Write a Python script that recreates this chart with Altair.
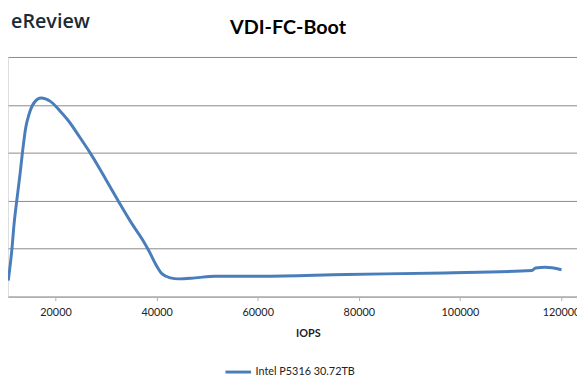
import altair as alt
import pandas as pd

# Data (y values in units of one gridline step)
iops = [10652, 11373, 11822, 12349, 12993, 13461, 14105, 14748, 15724, 17167,
        18982, 20933, 22552, 24834, 26785, 28736, 30043, 32306, 35232, 37183,
        38490, 39797, 41085, 42723, 44342, 47600, 51502, 60535, 77507, 97015,
        114241, 114963, 116855, 120094]
latency = [0.335, 0.988, 1.537, 2.016, 2.566, 3.01, 3.525, 3.80, 4.04, 4.142,
           4.074, 3.868, 3.67, 3.32, 3.01, 2.67, 2.428, 2.016, 1.502, 1.193,
           0.953, 0.679, 0.473, 0.391, 0.370, 0.391, 0.426, 0.426, 0.463, 0.494,
           0.545, 0.597, 0.611, 0.562]
series_name = "Intel P5316 30.72TB"
chart_title = "VDI-FC-Boot"
logo_text = "eReview"
x_ticks = [20000, 40000, 60000, 80000, 100000, 120000]
y_ticks = [0, 1, 2, 3, 4, 5]

df = pd.DataFrame({"IOPS": iops, "lat": latency, "series": series_name})

FONT = "Lato"
LINE = "#4A7EBB"

base = alt.Chart(df)

line = base.mark_line(strokeWidth=3, interpolate="monotone", clip=True).encode(
    x=alt.X("IOPS:Q",
            scale=alt.Scale(domain=[10600, 123160], nice=False, zero=False),
            axis=alt.Axis(values=x_ticks, format="d", title="IOPS",
                          grid=False, domainColor="#b0b0b0", tickColor="#b0b0b0",
                          tickSize=4, labelPadding=6, labelFontSize=11,
                          labelFont=FONT, labelColor="#222222",
                          titleFont=FONT, titleFontSize=11, titleFontWeight="bold",
                          titleColor="#222222", titleX=304, titleY=37,
                          titleBaseline="middle", titleAlign="center")),
    y=alt.Y("lat:Q",
            scale=alt.Scale(domain=[0, 5], nice=False),
            axis=alt.Axis(values=y_ticks, labels=False, ticks=False, domain=False,
                          title=None, gridColor="#8a8a8a", gridWidth=1)),
    color=alt.Color("series:N",
                    scale=alt.Scale(range=[LINE]),
                    legend=alt.Legend(title=None, orient="none", legendX=219,
                                      legendY=305, symbolType="stroke",
                                      symbolSize=676, symbolStrokeWidth=3,
                                      labelOffset=3, labelFont=FONT,
                                      labelFontSize=11, labelColor="#222222")),
)

logo = alt.Chart(pd.DataFrame({"t": [logo_text]})).mark_text(
    align="right", baseline="alphabetic", font="Open Sans", fontSize=20,
    fontWeight=600, color="#1d2a36"
).encode(text="t:N", x=alt.value(83), y=alt.value(-29))

title = alt.Chart(pd.DataFrame({"t": [chart_title]})).mark_text(
    align="center", baseline="alphabetic", font=FONT, fontSize=20,
    fontWeight="bold", color="#000000"
).encode(text="t:N", x=alt.value(284), y=alt.value(-23))

chart = alt.layer(line, logo, title).properties(
    width=577, height=243,
    autosize=alt.AutoSizeParams(type="none"),
    padding={"left": 0, "right": 0, "top": 47, "bottom": 90},
).configure_view(stroke=None).configure(background="white")

chart.save("out.html", embed_options={"renderer": "svg", "actions": False})
